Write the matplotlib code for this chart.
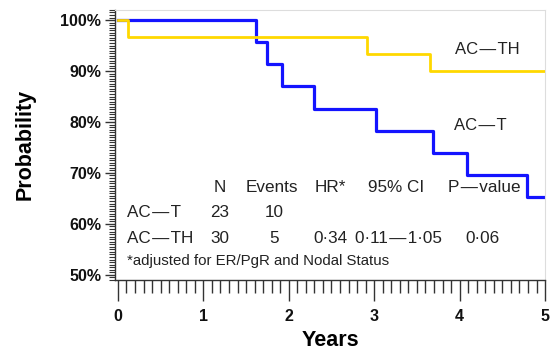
import matplotlib
matplotlib.use("Agg")
import matplotlib.pyplot as plt
from matplotlib.ticker import MultipleLocator, FuncFormatter

# Data (Kaplan-Meier steps)
act_times = [0.0, 1.62, 1.75, 1.92, 2.29, 3.02, 3.69, 4.09, 4.79, 5.0]
act_surv = [100.0, 95.7, 91.3, 87.0, 82.6, 78.3, 73.9, 69.6, 65.2, 65.2]
acth_times = [0.0, 0.12, 2.92, 3.65, 5.0]
acth_surv = [100.0, 96.7, 93.3, 90.0, 90.0]

D = "\u200a\u2014\u200a"
header = ["N", "Events", "HR*", "95% CI", "P" + D + "value"]
header_x = [1.19, 1.80, 2.49, 3.26, 4.29]
rows = [["AC" + D + "T", "23", "10", "", "", ""],
        ["AC" + D + "TH", "30", "5", "0\u00b734", "0\u00b711" + D + "1\u00b705", "0\u00b706"]]
row_y = [62.2, 57.2]
footnote = "*adjusted for ER/PgR and Nodal Status"

plt.rcParams['font.family'] = ['Liberation Sans', 'DejaVu Sans']

fig = plt.figure(figsize=(5.5, 3.53), dpi=100)
ax = fig.add_axes([0.209, 0.207, 0.782, 0.765])

ax.step(act_times, act_surv, where='post', color='#1414ff', lw=2.3, zorder=2)
ax.step(acth_times, acth_surv, where='post', color='#ffd800', lw=2.0, zorder=3)

ax.set_xlim(-0.035, 5.0)
ax.set_ylim(49.0, 102.0)

ax.xaxis.set_major_locator(MultipleLocator(1))
ax.xaxis.set_minor_locator(MultipleLocator(0.1))
ax.yaxis.set_major_locator(MultipleLocator(10))
ax.yaxis.set_minor_locator(MultipleLocator(0.5))
ax.yaxis.set_major_formatter(FuncFormatter(lambda v, p: f"{int(round(v))}%"))

ax.tick_params(axis='x', which='major', length=15, width=1.0, color='#333333', pad=6)
ax.tick_params(axis='x', which='minor', length=9, width=1.0, color='#333333')
ax.tick_params(axis='y', which='major', length=7, width=1.0, color='#333333', pad=3)
ax.tick_params(axis='y', which='minor', length=4, width=0.8, color='#333333')
for lab in ax.get_xticklabels() + ax.get_yticklabels():
    lab.set_fontweight('bold')
    lab.set_fontsize(11.5)
    lab.set_color('#111111')

for s in ['left', 'bottom']:
    ax.spines[s].set_color('#333333')
    ax.spines[s].set_linewidth(1.0)
for s in ['top', 'right']:
    ax.spines[s].set_color('#dddddd')
    ax.spines[s].set_linewidth(0.8)

ax.set_xlabel("Years", fontsize=15.5, fontweight='bold', labelpad=4)
ax.set_ylabel("Probability", fontsize=15.5, fontweight='bold', labelpad=18)

tc = '#222222'
ax.text(4.32, 94.3, "AC" + D + "TH", fontsize=12, ha='center', va='center', color=tc)
ax.text(4.24, 79.3, "AC" + D + "T", fontsize=12, ha='center', va='center', color=tc)

for h, x in zip(header, header_x):
    ax.text(x, 67.1, h, fontsize=12.3, ha='center', va='center', color=tc)
cols_x = [None, 1.19, 1.83, 2.49, 3.28, 4.27]
for r, y in zip(rows, row_y):
    ax.text(0.105, y, r[0], fontsize=12.3, ha='left', va='center', color=tc)
    for val, x in zip(r[1:], cols_x[1:]):
        if val:
            ax.text(x, y, val, fontsize=12.3, ha='center', va='center', color=tc)
ax.text(0.105, 52.8, footnote, fontsize=10.8, ha='left', va='center', color=tc)

fig.savefig("out.png", dpi=100)
